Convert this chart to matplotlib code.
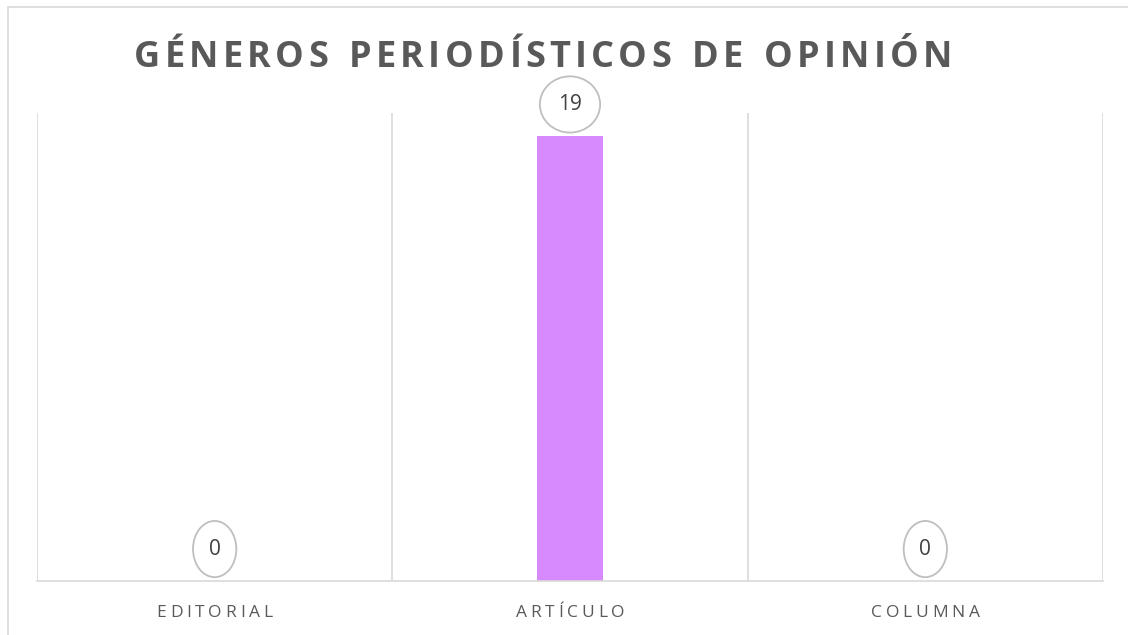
import matplotlib
matplotlib.use("Agg")
import matplotlib.pyplot as plt
from matplotlib.patches import Rectangle

# Data
categories = ["EDITORIAL", "ARTÍCULO", "COLUMNA"]
values = [0, 19, 0]
title = "GÉNEROS PERIODÍSTICOS DE OPINIÓN"

BAR_COLOR = "#D68AFD"
GRID_COLOR = "#D9D9D9"
TEXT_COLOR = "#595959"

W, H = 1128, 635
fig = plt.figure(figsize=(W / 100, H / 100), dpi=100)
fig.patch.set_facecolor("white")

# outer chart border (cut off at right/bottom in the reference)
fig.patches.append(Rectangle((8 / W, -0.1), 1.2, (H - 7) / H + 0.1,
                             transform=fig.transFigure, fill=False,
                             edgecolor=GRID_COLOR, linewidth=1.2))

ax = fig.add_axes([37 / W, (H - 581) / H, (1103 - 37) / W, (581 - 113) / H])
x = range(len(categories))
ax.bar(x, values, width=0.186, color=BAR_COLOR, zorder=2)
ax.set_xlim(-0.5, len(categories) - 0.5)
ax.set_ylim(0, 20)

for s in ["top", "right", "left"]:
    ax.spines[s].set_visible(False)
ax.spines["bottom"].set_color(GRID_COLOR)
ax.spines["bottom"].set_linewidth(1.2)
for b in [i - 0.5 for i in range(len(categories) + 1)]:
    ax.axvline(b, color=GRID_COLOR, linewidth=1.2, zorder=1)
ax.set_xticks([])
ax.set_yticks([])

# data labels in ellipses
for i, v in zip(x, values):
    ax.annotate(str(v), (i, v), xytext=(0, 23), textcoords="offset points",
                ha="center", va="center", fontsize=15, color="#404040",
                family="Open Sans",
                bbox=dict(boxstyle="ellipse,pad=0.45", fc="white",
                          ec="#BFBFBF", lw=1.3), zorder=3)


def tracked_text(s, cx, base_y, size, weight, spacing):
    """Draw text with letter spacing, centred on cx, baseline at pixel base_y."""
    renderer = fig.canvas.get_renderer()
    widths = []
    for ch in s:
        t = fig.text(0, 0, ch if ch != " " else "a", fontsize=size,
                     fontweight=weight, family="Open Sans")
        w = t.get_window_extent(renderer).width
        if ch == " ":
            w *= 0.55
        widths.append(w)
        t.remove()
    total = sum(widths) + spacing * (len(s) - 1)
    xpos = cx - total / 2
    for ch, w in zip(s, widths):
        if ch != " ":
            fig.text(xpos / W, 1 - base_y / H, ch, fontsize=size,
                     fontweight=weight, family="Open Sans", color=TEXT_COLOR,
                     ha="left", va="baseline")
        xpos += w + spacing


tracked_text(title, 543, 67, 26, "bold", 4.3)
for i, c in enumerate(categories):
    cx = 37 + (i + 0.5) * (1103 - 37) / len(categories)
    tracked_text(c, cx, 617, 12.5, "normal", 3.8)

fig.savefig("out.png", dpi=100, facecolor="white")
